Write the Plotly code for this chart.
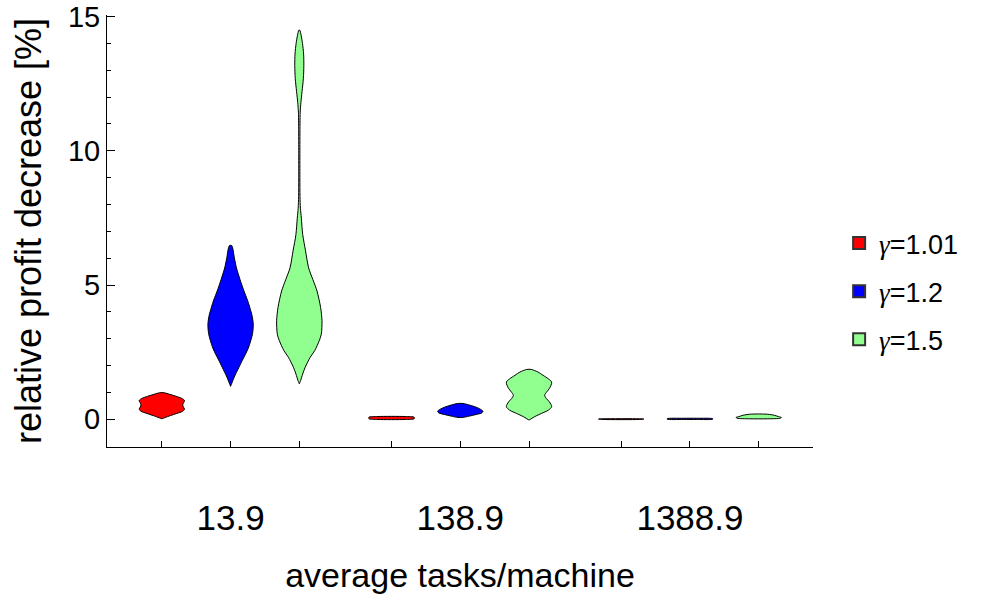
import plotly.graph_objects as go

# ---- data ----
groups = ["13.9", "138.9", "1388.9"]
series = ["γ=1.01", "γ=1.2", "γ=1.5"]
colors = ["#ff0000", "#0000ff", "#90ff90"]

# violin outlines: y levels (%) and relative half-width (1 = widest)
red_g1_y = [0.99, 0.93, 0.86, 0.78, 0.70, 0.62, 0.54, 0.46, 0.38, 0.30, 0.22, 0.14, 0.06, 0.02]
red_g1_w = [0.10, 0.35, 0.62, 0.88, 1.00, 0.96, 0.92, 0.95, 1.00, 0.92, 0.66, 0.38, 0.12, 0.0]
blue_g1_y = [6.47, 6.0, 5.64, 5.2, 4.78, 4.45, 4.16, 3.85, 3.54, 3.2, 2.93, 2.65, 2.43, 2.2, 1.94, 1.75, 1.57, 1.4, 1.23]
blue_g1_w = [0.05, 0.17, 0.26, 0.42, 0.59, 0.74, 0.85, 0.95, 1.0, 0.97, 0.89, 0.78, 0.66, 0.52, 0.37, 0.26, 0.16, 0.08, 0.0]
green_g1_y = [14.49, 14.3, 14.0, 13.6, 13.17, 12.7, 12.2, 11.8, 11.44, 11.0, 10.0, 9.0, 8.3, 7.86, 7.49, 6.88, 6.3, 5.64,
              5.2, 4.78, 4.16, 3.67, 3.17, 2.93, 2.56, 2.31, 1.94, 1.69, 1.45, 1.32]
green_g1_w = [0.02, 0.08, 0.14, 0.19, 0.20, 0.18, 0.12, 0.07, 0.04, 0.03, 0.025, 0.025, 0.03, 0.05, 0.09, 0.15, 0.27, 0.41,
              0.60, 0.78, 0.94, 1.0, 0.97, 0.88, 0.68, 0.48, 0.26, 0.15, 0.06, 0.0]

red_g2_y = [0.105, 0.08, 0.05, 0.02, -0.005]
red_g2_w = [0.6, 1.0, 1.0, 1.0, 0.6]
blue_g2_y = [0.59, 0.52, 0.45, 0.38, 0.30, 0.24, 0.18, 0.12, 0.07]
blue_g2_w = [0.12, 0.45, 0.70, 0.88, 1.0, 0.95, 0.70, 0.40, 0.10]
green_g2_y = [1.858, 1.76, 1.64, 1.51, 1.39, 1.27, 1.15, 1.02, 0.90, 0.78, 0.65, 0.47, 0.34, 0.22, 0.10, -0.03]
green_g2_w = [0.10, 0.40, 0.62, 0.85, 1.0, 0.97, 0.90, 0.78, 0.69, 0.76, 0.90, 1.0, 0.85, 0.55, 0.25, 0.0]

red_g3_y = [0.02, 0.01, -0.005]
red_g3_w = [0.8, 1.0, 0.8]
blue_g3_y = [0.04, 0.025, 0.005, -0.005]
blue_g3_w = [0.3, 1.0, 1.0, 0.3]
green_g3_y = [0.20, 0.19, 0.15, 0.10, 0.07, 0.04, 0.02]
green_g3_w = [0.05, 0.40, 0.70, 0.88, 1.0, 0.95, 0.40]

profiles = [
    [(red_g1_y, red_g1_w), (blue_g1_y, blue_g1_w), (green_g1_y, green_g1_w)],
    [(red_g2_y, red_g2_w), (blue_g2_y, blue_g2_w), (green_g2_y, green_g2_w)],
    [(red_g3_y, red_g3_w), (blue_g3_y, blue_g3_w), (green_g3_y, green_g3_w)],
]

# ---- layout helpers ----
group_step = 3.342
max_half = 0.33

fig = go.Figure()
tickvals, ticktext = [], []
for gi, gname in enumerate(groups):
    for si in range(3):
        c = gi * group_step + si
        tickvals.append(c)
        ticktext.append(gname if si == 1 else "")
        ys, ws = profiles[gi][si]
        xs = [c + w * max_half for w in ws] + [c - w * max_half for w in reversed(ws)]
        yy = list(ys) + list(reversed(ys))
        xs.append(xs[0]); yy.append(yy[0])
        fig.add_trace(go.Scatter(
            x=xs, y=yy, mode="lines", fill="toself", fillcolor=colors[si],
            line=dict(color="black", width=1, shape="spline", smoothing=0.8),
            showlegend=False, hoverinfo="skip"))

for si, name in enumerate(series):
    fig.add_trace(go.Scatter(
        x=[None], y=[None], mode="markers",
        name='<span style="font-family:Liberation Serif"><i>γ</i></span>=' + name.split("=")[1],
        marker=dict(symbol="square", size=14, color=colors[si], line=dict(color="#333", width=1)),
        legendgroup=str(si)))

font = "Liberation Sans, Arial, sans-serif"
fig.update_layout(
    width=987, height=596,
    margin=dict(l=107, r=174, t=15, b=149),
    paper_bgcolor="white", plot_bgcolor="white",
    font=dict(family=font, color="black"),
    showlegend=True,
    legend=dict(x=1.037, y=0.36, xanchor="left", yanchor="middle",
                font=dict(size=27, family=font), tracegroupgap=10,
                itemsizing="constant", bgcolor="rgba(0,0,0,0)"),
    xaxis=dict(range=[-0.798, 2 * group_step + 2 + 0.79], automargin=False,
               tickvals=tickvals, ticktext=ticktext,
               ticks="inside", ticklen=6, tickcolor="black", tickwidth=1,
               showline=True, linecolor="black", linewidth=1,
               showgrid=False, zeroline=False,
               tickfont=dict(size=35), ticklabelstandoff=40,
               title=dict(text="average tasks/machine", font=dict(size=34), standoff=27)),
    yaxis=dict(range=[-1.03, 15.056], tickvals=[0, 5, 10, 15], automargin=False,
               ticks="inside", ticklen=8, tickcolor="black", tickwidth=1,
               minor=dict(dtick=1, ticks="inside", ticklen=4, tickcolor="black"),
               showline=True, linecolor="black", linewidth=1,
               showgrid=False, zeroline=False,
               tickfont=dict(size=29), ticklabeloverflow="allow",
               title=dict(text="relative profit decrease [%]", font=dict(size=36), standoff=15)),
)

fig.write_html("out.html")
